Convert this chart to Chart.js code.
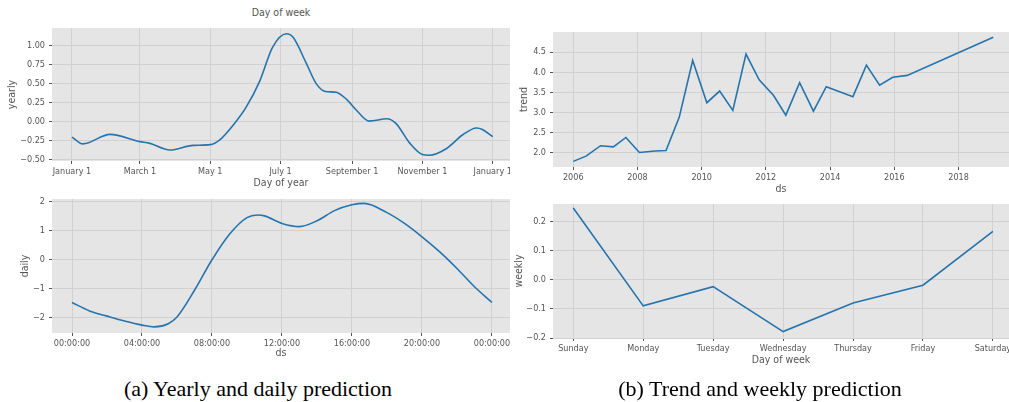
<!DOCTYPE html>
<html>
<head>
<meta charset="utf-8">
<script src="https://cdn.jsdelivr.net/npm/chart.js@4.4.0/dist/chart.umd.min.js"></script>
<style>
  body { margin: 0; width: 1009px; height: 402px; overflow: hidden; background: #fff; position: relative; }
  canvas { position: absolute; }
  .cap { position: absolute; top: 378px; width: 510px; text-align: center; color: #000;
         font-family: 'Liberation Serif', 'Times New Roman', serif; font-size: 22px; line-height: 22px; }
  #topTitle { position: absolute; left: 52px; width: 458px; top: 6px; text-align: center; color: #555;
              font-family: 'DejaVu Sans Condensed', 'DejaVu Sans', sans-serif; font-size: 10.5px; }
</style>
</head>
<body>
<div id="topTitle">Day of week</div>
<canvas id="yearly" width="510" height="190" style="left:0;top:0;width:510px;height:190px"></canvas>
<canvas id="daily" width="510" height="170" style="left:0;top:190px;width:510px;height:170px"></canvas>
<canvas id="trend" width="509" height="196" style="left:500px;top:0;width:509px;height:196px"></canvas>
<canvas id="weekly" width="509" height="172" style="left:500px;top:195px;width:509px;height:172px"></canvas>
<div class="cap" style="left:3px">(a) Yearly and daily prediction</div>
<div class="cap" style="left:505px">(b) Trend and weekly prediction</div>
<script>
// yearly component (day of year)
var yearlyDays = [0, 9.5, 33, 59, 67, 85, 105, 120, 128, 140, 151, 163, 174, 186, 192, 203, 212, 220, 229, 238, 247, 258, 273, 281, 293, 304, 310, 325, 339, 351, 356, 365];
var yearlyValues = [-0.20, -0.29, -0.165, -0.26, -0.28, -0.37, -0.31, -0.30, -0.24, -0.04, 0.19, 0.54, 0.98, 1.16, 1.11, 0.78, 0.50, 0.40, 0.39, 0.30, 0.15, 0.01, 0.04, -0.02, -0.28, -0.43, -0.44, -0.35, -0.17, -0.08, -0.10, -0.195];
var yearTickDays = [0, 59, 120, 181, 243, 304, 365];
var yearTickLabels = ['January 1', 'March 1', 'May 1', 'July 1', 'September 1', 'November 1', 'January 1'];
var yearlyTicks = [-0.5, -0.25, 0, 0.25, 0.5, 0.75, 1.0];

// daily component (hour of day)
var dailyHours = [0, 1, 2, 3, 4, 4.7, 5.5, 6, 7, 8, 9, 10, 10.6, 11, 12, 13, 14, 15, 16, 16.7, 18, 19, 20, 21, 22, 23, 24];
var dailyValues = [-1.47, -1.76, -1.94, -2.11, -2.25, -2.31, -2.2, -1.97, -1.05, 0.0, 0.88, 1.45, 1.54, 1.51, 1.25, 1.14, 1.34, 1.69, 1.89, 1.94, 1.62, 1.25, 0.79, 0.28, -0.30, -0.93, -1.47];
var dailyTickHours = [0, 4, 8, 12, 16, 20, 24];
var dailyTickLabels = ['00:00:00', '04:00:00', '08:00:00', '12:00:00', '16:00:00', '20:00:00', '00:00:00'];
var dailyTicks = [-2, -1, 0, 1, 2];

// trend component
var trendYears = [2006.0, 2006.4, 2006.85, 2007.25, 2007.64, 2008.06, 2008.55, 2008.89, 2009.3, 2009.72, 2010.16, 2010.56, 2010.97, 2011.38, 2011.79, 2012.24, 2012.62, 2013.05, 2013.48, 2013.88, 2014.71, 2015.13, 2015.54, 2015.95, 2016.4, 2019.08];
var trendValues = [1.78, 1.91, 2.17, 2.14, 2.375, 2.0, 2.04, 2.05, 2.875, 4.29, 3.24, 3.53, 3.05, 4.45, 3.81, 3.42, 2.93, 3.74, 3.03, 3.64, 3.39, 4.175, 3.675, 3.875, 3.92, 4.87];
var trendTickYears = [2006, 2008, 2010, 2012, 2014, 2016, 2018];
var trendTicks = [2.0, 2.5, 3.0, 3.5, 4.0, 4.5];

// weekly component
var weekDays = ['Sunday', 'Monday', 'Tuesday', 'Wednesday', 'Thursday', 'Friday', 'Saturday'];
var weeklyValues = [0.245, -0.090, -0.024, -0.178, -0.080, -0.019, 0.165];
var weeklyTicks = [-0.2, -0.1, 0.0, 0.1, 0.2];

var lineColor = '#2574ad';
var gridColor = '#d1d1d1';
var textColor = '#555555';
var tickFont = { family: "'DejaVu Sans Condensed', 'DejaVu Sans', sans-serif", size: 9 };
var titleFont = { family: "'DejaVu Sans Condensed', 'DejaVu Sans', sans-serif", size: 10.5 };

var plotBg = {
  id: 'plotBg',
  beforeDraw: function (c) {
    var a = c.chartArea;
    c.ctx.save();
    c.ctx.fillStyle = '#E5E5E5';
    c.ctx.fillRect(a.left, a.top, a.right - a.left, a.bottom - a.top);
    c.ctx.restore();
  }
};

function minus(s) { return s.replace('-', '\u2212'); }

function makeChart(id, o) {
  var pts = o.xs.map(function (x, i) { return { x: x, y: o.ys[i] }; });
  return new Chart(document.getElementById(id), {
    type: 'line',
    data: { datasets: [{ data: pts, borderColor: lineColor, borderWidth: 1.6, pointRadius: 0, fill: false,
      tension: o.smooth ? 0.4 : 0, cubicInterpolationMode: o.smooth ? 'monotone' : 'default' }] },
    options: {
      responsive: false,
      animation: false,
      layout: { padding: { top: o.padTop, left: 0, right: 0, bottom: 0 } },
      plugins: { legend: { display: false }, tooltip: { enabled: false } },
      scales: {
        x: {
          type: 'linear', min: o.xMin, max: o.xMax,
          afterBuildTicks: function (s) { s.ticks = o.xTicks.map(function (v) { return { value: v }; }); },
          afterFit: function (s) { s.height = o.xHeight; s.paddingLeft = 0; s.paddingRight = 0; },
          grid: { color: gridColor, tickColor: textColor, tickLength: 3 },
          border: { display: false },
          ticks: { autoSkip: false, maxRotation: 0, padding: 2, color: textColor, font: tickFont,
            callback: function (v, i) { return o.xLabels[i]; } },
          title: { display: true, text: o.xTitle, color: textColor, font: titleFont, padding: { top: 0, bottom: 0 } }
        },
        y: {
          type: 'linear', min: o.yMin, max: o.yMax,
          afterBuildTicks: function (s) { s.ticks = o.yTicks.map(function (v) { return { value: v }; }); },
          afterFit: function (s) { s.width = o.yWidth; s.paddingTop = 0; s.paddingBottom = 0; },
          grid: { color: gridColor, tickColor: textColor, tickLength: 3 },
          border: { display: false },
          ticks: { autoSkip: false, padding: 4, color: textColor, font: tickFont,
            callback: function (v) { return minus(v.toFixed(o.yDec)); } },
          title: { display: true, text: o.yTitle, color: textColor, font: titleFont, padding: { top: o.yTitlePad, bottom: 0 } }
        }
      }
    },
    plugins: [plotBg]
  });
}

makeChart('yearly', {
  xs: yearlyDays, ys: yearlyValues, smooth: true,
  xMin: -17.3, xMax: 380, xTicks: yearTickDays, xLabels: yearTickLabels, xTitle: 'Day of year',
  yMin: -0.515, yMax: 1.235, yTicks: yearlyTicks, yDec: 2, yTitle: 'yearly', yTitlePad: 6,
  padTop: 28, yWidth: 52, xHeight: 29
});

makeChart('daily', {
  xs: dailyHours, ys: dailyValues, smooth: true,
  xMin: -1.143, xMax: 25.03, xTicks: dailyTickHours, xLabels: dailyTickLabels, xTitle: 'ds',
  yMin: -2.52, yMax: 2.09, yTicks: dailyTicks, yDec: 0, yTitle: 'daily', yTitlePad: 18.5,
  padTop: 9, yWidth: 52, xHeight: 27
});

makeChart('trend', {
  xs: trendYears, ys: trendValues, smooth: false,
  xMin: 2005.37, xMax: 2019.57, xTicks: trendTickYears, xLabels: trendTickYears.map(String), xTitle: 'ds',
  yMin: 1.64, yMax: 5.0, yTicks: trendTicks, yDec: 1, yTitle: 'trend', yTitlePad: 17.5,
  padTop: 32, yWidth: 53, xHeight: 29
});

makeChart('weekly', {
  xs: weekDays.map(function (d, i) { return i; }), ys: weeklyValues, smooth: false,
  xMin: -0.29, xMax: 6.23, xTicks: [0, 1, 2, 3, 4, 5, 6], xLabels: weekDays, xTitle: 'Day of week',
  yMin: -0.2, yMax: 0.259, yTicks: weeklyTicks, yDec: 1, yTitle: 'weekly', yTitlePad: 12.5,
  padTop: 9, yWidth: 53, xHeight: 29
});
</script>
</body>
</html>
